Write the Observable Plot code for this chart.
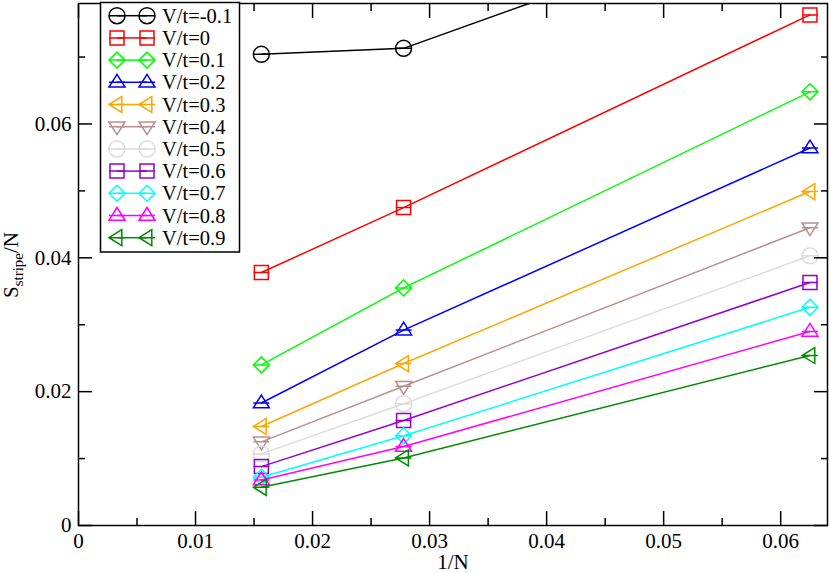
<!DOCTYPE html>
<html><head><meta charset="utf-8">
<script src="https://cdn.jsdelivr.net/npm/d3@7"></script>
<script src="https://cdn.jsdelivr.net/npm/@observablehq/plot@0.6"></script>
<style>
body{margin:0;background:#fff;}
#wrap{position:relative;width:830px;height:573px;font-family:"Liberation Serif",serif;}
#wrap svg, #wrap svg text, #wrap svg tspan, #wrap svg g{font-family:"Liberation Serif",serif !important;}
#legend{position:absolute;left:0;top:0;pointer-events:none;}
</style></head><body><div id="wrap"></div>
<script>
// 1/N values (N = 64, 36, 16)
const invN = [1/64, 1/36, 1/16];
const labels = ["V/t=-0.1","V/t=0","V/t=0.1","V/t=0.2","V/t=0.3","V/t=0.4","V/t=0.5","V/t=0.6","V/t=0.7","V/t=0.8","V/t=0.9"];
const colors = ["#000000","#ff0000","#00ff00","#0000ff","#ffa500","#bc8f8f","#dcdcdc","#9400d3","#00ffff","#ff00ff","#008b00"];
const shapes = ["circle","square","diamond","triangleUp","triangleLeft","triangleDown","circle","square","diamond","triangleUp","triangleLeft"];
const vM01 = [0.0704, 0.0713, 0.0930];
const v00 = [0.0378, 0.0475, 0.0763];
const v01 = [0.0240, 0.0355, 0.0648];
const v02 = [0.0183, 0.0292, 0.0564];
const v03 = [0.0148, 0.0242, 0.0499];
const v04 = [0.0125, 0.0208, 0.0445];
const v05 = [0.0107, 0.0182, 0.0403];
const v06 = [0.0088, 0.0157, 0.0363];
const v07 = [0.0072, 0.0134, 0.0326];
const v08 = [0.0068, 0.0118, 0.0290];
const v09 = [0.0057, 0.0101, 0.0254];
const seriesValues = [vM01, v00, v01, v02, v03, v04, v05, v06, v07, v08, v09];
const xMajor = [0, 0.01, 0.02, 0.03, 0.04, 0.05, 0.06];
const xMinor = [0.005, 0.015, 0.025, 0.035, 0.045, 0.055];
const yMajor = [0, 0.02, 0.04, 0.06];
const yMinor = [0.01, 0.03, 0.05, 0.07];
const fmt = d => d === 0 ? "0" : d.toFixed(2);

function makeSymbol(kind) {
  return { draw(ctx, size) {
    const s = Math.sqrt(size / Math.PI);
    switch (kind) {
      case "circle": ctx.moveTo(s, 0); ctx.arc(0, 0, s, 0, 2 * Math.PI); break;
      case "square": { const h = s * 0.875; ctx.moveTo(-h, -h); ctx.lineTo(h, -h); ctx.lineTo(h, h); ctx.lineTo(-h, h); ctx.closePath(); break; }
      case "diamond": ctx.moveTo(0, -s); ctx.lineTo(s, 0); ctx.lineTo(0, s); ctx.lineTo(-s, 0); ctx.closePath(); break;
      case "triangleUp": ctx.moveTo(0, -s); ctx.lineTo(s, 0.6 * s); ctx.lineTo(-s, 0.6 * s); ctx.closePath(); break;
      case "triangleDown": ctx.moveTo(0, s); ctx.lineTo(s, -0.6 * s); ctx.lineTo(-s, -0.6 * s); ctx.closePath(); break;
      case "triangleLeft": ctx.moveTo(-s, 0); ctx.lineTo(0.6 * s, -s); ctx.lineTo(0.6 * s, s); ctx.closePath(); break;
    }
    // zero-size error-bar cap
    ctx.moveTo(-s, 0); ctx.lineTo(s, 0);
  }};
}
const syms = shapes.map(makeSymbol);

const marks = [];
seriesValues.forEach((vals, i) => {
  const data = invN.map((x, j) => ({x, y: vals[j]}));
  marks.push(Plot.line(data, {x: "x", y: "y", stroke: colors[i], strokeWidth: 1.5, clip: true}));
  marks.push(Plot.dot(data, {x: "x", y: "y", symbol: syms[i], r: 8, stroke: colors[i], fill: "none", strokeWidth: 1.5, clip: true}));
});

const tickOpts = {fill: "none", label: null, strokeWidth: 1.5};
const chart = Plot.plot({
  width: 830, height: 573,
  marginLeft: 78, marginRight: 3, marginTop: 3, marginBottom: 48,
  style: "font-family: 'Liberation Serif', serif; background: white; color: black;",
  x: {domain: [0, 0.064]},
  y: {domain: [0, 0.078]},
  marks: [
    ...marks,
    Plot.axisX({...tickOpts, anchor: "bottom", ticks: xMajor, tickSize: -14}),
    Plot.axisX({...tickOpts, anchor: "bottom", ticks: xMinor, tickSize: -7}),
    Plot.axisX({...tickOpts, anchor: "top", ticks: xMajor, tickSize: -14}),
    Plot.axisX({...tickOpts, anchor: "top", ticks: xMinor, tickSize: -7}),
    Plot.axisY({...tickOpts, anchor: "left", ticks: yMajor, tickSize: -14}),
    Plot.axisY({...tickOpts, anchor: "left", ticks: yMinor, tickSize: -7}),
    Plot.axisY({...tickOpts, anchor: "right", ticks: yMajor, tickSize: -14}),
    Plot.axisY({...tickOpts, anchor: "right", ticks: yMinor, tickSize: -7}),
    Plot.axisX({anchor: "bottom", ticks: xMajor, tickSize: 0, tickPadding: 8, tickFormat: fmt, fontSize: 21, label: null}),
    Plot.axisY({anchor: "left", ticks: yMajor, tickSize: 0, tickPadding: 7, tickFormat: fmt, fontSize: 21, label: null}),
    Plot.text(["1/N"], {frameAnchor: "bottom", dy: 37, lineAnchor: "middle", fontSize: 21, fill: "black"}),
    Plot.frame({stroke: "black", strokeWidth: 1.5})
  ]
});
document.getElementById("wrap").appendChild(chart);

// y-axis label with subscript
const yl = d3.select(chart).append("text")
  .attr("transform", "translate(18,265) rotate(-90)")
  .attr("text-anchor", "middle").attr("font-size", 21).attr("fill", "black");
yl.append("tspan").text("S");
yl.append("tspan").attr("font-size", 15).attr("dy", 5).text("stripe");
yl.append("tspan").attr("dy", -5).text("/N");

// legend
const leg = d3.select("#wrap").append("svg").attr("id", "legend").attr("width", 830).attr("height", 573)
  .attr("font-family", "Liberation Serif, serif");
leg.append("rect").attr("x", 100.5).attr("y", 2.5).attr("width", 139).attr("height", 249.5)
  .attr("fill", "white").attr("stroke", "black").attr("stroke-width", 1.5);
labels.forEach((lab, i) => {
  const y = 15.7 + i * 22.2;
  leg.append("line").attr("x1", 117).attr("x2", 147).attr("y1", y).attr("y2", y)
    .attr("stroke", colors[i]).attr("stroke-width", 1.5);
  for (const x of [117, 147]) {
    leg.append("path").attr("transform", `translate(${x},${y})`)
      .attr("d", d3.symbol(syms[i], 64 * Math.PI)())
      .attr("fill", "none").attr("stroke", colors[i]).attr("stroke-width", 1.5);
  }
  leg.append("text").attr("x", 162).attr("y", y + 7).attr("font-size", 20.5).attr("fill", "black").text(lab);
});
</script></body></html>
